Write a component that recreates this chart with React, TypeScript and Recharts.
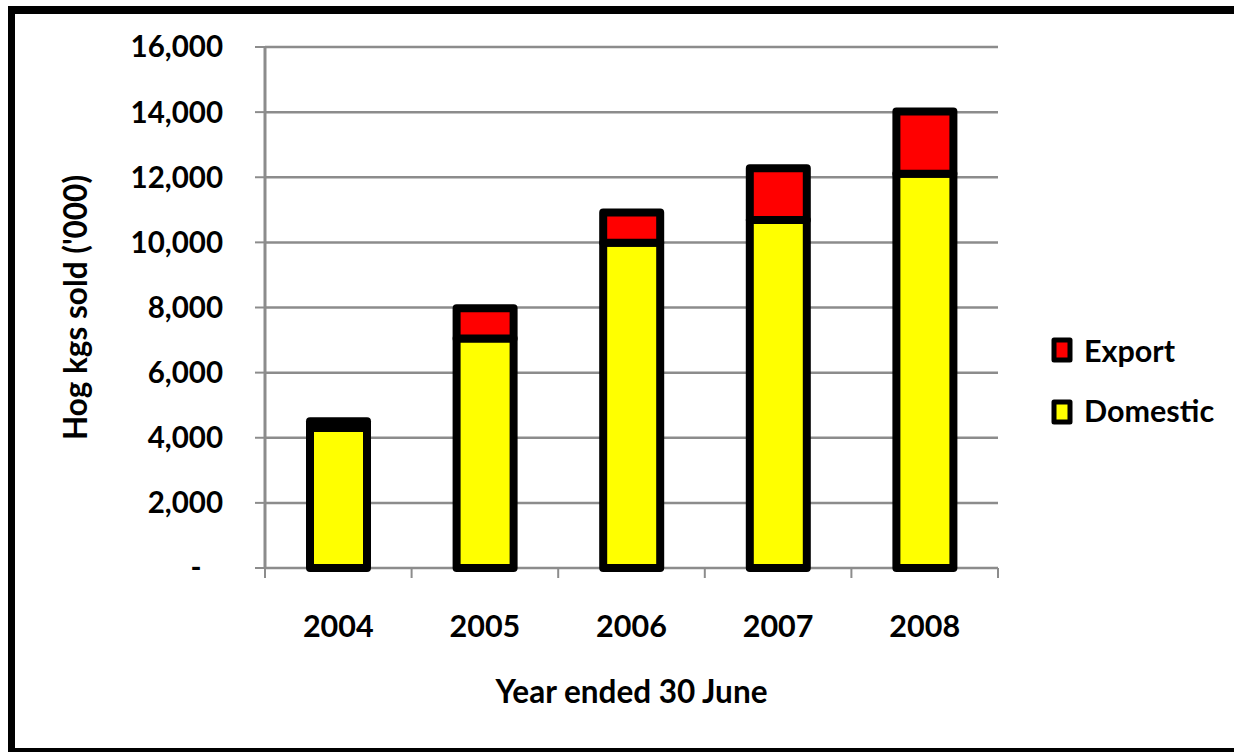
import React from 'react';
import { BarChart, Bar, XAxis, YAxis, CartesianGrid, Legend } from 'recharts';

const years = ['2004', '2005', '2006', '2007', '2008'];
const domesticValues = [4300, 7050, 9990, 10690, 12110];
const exportValues = [210, 930, 930, 1590, 1910];
const yTicks = [0, 2000, 4000, 6000, 8000, 10000, 12000, 14000, 16000];
const seriesNames = ['Export', 'Domestic'];
const seriesColors = ['#FF0000', '#FFFF00'];

const data = years.map((y, i) => ({ year: y, Domestic: domesticValues[i], Export: exportValues[i] }));

const FONT = 'Lato, "DejaVu Sans", sans-serif';
const GRID = '#8c8c8c';

const fmtY = (v: number) => (v === 0 ? '-\u00A0\u00A0\u00A0' : v.toLocaleString('en-US'));

const LegendContent = () => (
  <svg width={200} height={120} style={{ display: 'block' }}>
    {seriesNames.map((name, i) => (
      <g key={name}>
        <rect x={14} y={20 + i * 62} width={16} height={20} fill={seriesColors[i]} stroke="#000" strokeWidth={5} strokeLinejoin="round" />
        <text x={44} y={42 + i * 60} fontFamily={FONT} fontWeight={700} fontSize={30.5} fill="#000">{name}</text>
      </g>
    ))}
  </svg>
);

const XTick = (props: any) => {
  const { x, y, payload, index, visibleTicksCount } = props;
  const half = payload && payload.offset ? payload.offset : 0;
  return (
    <g>
      <line x1={x - half} x2={x - half} y1={y} y2={y + 10} stroke={GRID} strokeWidth={2} />
      {index === visibleTicksCount - 1 && (
        <line x1={x + half} x2={x + half} y1={y} y2={y + 10} stroke={GRID} strokeWidth={2} />
      )}
      <text x={x} y={y + 47} dy="0.71em" textAnchor="middle" fontFamily={FONT} fontWeight={700} fontSize={30.5} fill="#000">
        {payload.value}
      </text>
    </g>
  );
};

const YTitle = (props: any) => {
  const vb = props.viewBox || {};
  const cx = vb.x + 10;
  const cy = vb.y + vb.height / 2;
  return (
    <text x={cx} y={cy} transform={`rotate(-90 ${cx} ${cy})`} textAnchor="middle" dominantBaseline="central" fontFamily={FONT} fontWeight={700} fontSize={31.5} fill="#000">
      Hog kgs sold ('000)
    </text>
  );
};

const XTitle = (props: any) => {
  const vb = props.viewBox || {};
  return (
    <text x={vb.x + vb.width / 2} y={vb.y + 135} textAnchor="middle" fontFamily={FONT} fontWeight={700} fontSize={31.5} fill="#000">
      Year ended 30 June
    </text>
  );
};

export default function App() {
  return (
    <div>
      <style>{'html,body{overflow:hidden}'}</style>
      <div style={{ position: 'absolute', left: 8, top: 6, width: 1260, height: 746, boxSizing: 'border-box', borderLeft: '7px solid #000', borderTop: '8px solid #000', borderBottom: '4px solid #000', pointerEvents: 'none', zIndex: 2 }} />
      <BarChart width={1226} height={744} data={data} margin={{ top: 39, right: 36, bottom: 44, left: 57 }} barSize={57}>
        <CartesianGrid horizontal vertical={false} stroke={GRID} strokeWidth={2.5} />
        <XAxis dataKey="year" height={140} tickLine={false} tickSize={0} tickMargin={0} interval={0} axisLine={false} tick={<XTick />} label={<XTitle />} />
        <YAxis width={200} domain={[0, 16000]} ticks={yTicks} tickFormatter={fmtY} tickSize={10} tickMargin={32} axisLine={{ stroke: GRID, strokeWidth: 3 }} tickLine={{ stroke: GRID, strokeWidth: 2 }} tick={{ fontFamily: FONT, fontWeight: 700, fontSize: 29.5, fill: '#000' }} label={<YTitle />} />
        <Legend layout="vertical" align="right" verticalAlign="middle" content={<LegendContent />} wrapperStyle={{ position: 'absolute', left: 1032, top: 312, width: 200, height: 120 }} />
        <Bar dataKey="Domestic" stackId="a" fill="#FFFF00" stroke="#000" strokeWidth={8} strokeLinejoin="round" isAnimationActive={false} />
        <Bar dataKey="Export" stackId="a" fill="#FF0000" stroke="#000" strokeWidth={8} strokeLinejoin="round" isAnimationActive={false} />
      </BarChart>
    </div>
  );
}
